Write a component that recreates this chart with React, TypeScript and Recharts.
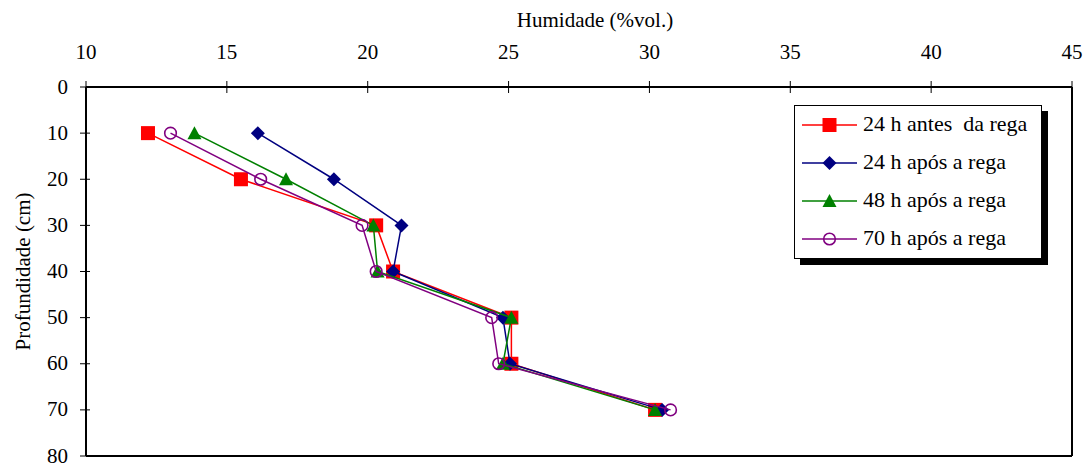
import React from 'react';
import { ScatterChart, Scatter, XAxis, YAxis, ReferenceLine, Legend } from 'recharts';

const depths = [10, 20, 30, 40, 50, 60, 70];
const antes24 = [12.2, 15.5, 20.3, 20.9, 25.1, 25.1, 30.2];
const apos24 = [16.1, 18.8, 21.2, 20.9, 24.8, 25.05, 30.45];
const apos48 = [13.85, 17.1, 20.2, 20.35, 25.1, 24.8, 30.2];
const apos70 = [13.0, 16.2, 19.8, 20.3, 24.4, 24.65, 30.75];

const xTicks = [10, 15, 20, 25, 30, 35, 40, 45];
const yTicks = [0, 10, 20, 30, 40, 50, 60, 70, 80];

const seriesNames = ['24 h antes  da rega', '24 h após a rega', '48 h após a rega', '70 h após a rega'];
const seriesColors = ['#FF0000', '#000080', '#008000', '#800080'];
const seriesShapes = ['square', 'diamond', 'triangle', 'circle'];
const seriesValues = [antes24, apos24, apos48, apos70];

const FONT = 'Liberation Serif';
const TICK_SIZE = 6;
const X_TICK_MARGIN = 22;
const Y_TICK_MARGIN = 12;

const toPoints = (vals: number[]) => vals.map((v, i) => ({ x: v, y: depths[i] }));

function Marker({ kind, cx, cy, color }: { kind: string; cx: number; cy: number; color: string }) {
  if (cx == null || cy == null) return null;
  switch (kind) {
    case 'square':
      return <rect x={cx - 7} y={cy - 7} width={14} height={14} fill={color} />;
    case 'diamond':
      return (
        <polygon
          points={`${cx},${cy - 7} ${cx + 7},${cy} ${cx},${cy + 7} ${cx - 7},${cy}`}
          fill={color}
        />
      );
    case 'triangle':
      return (
        <polygon
          points={`${cx},${cy - 7} ${cx + 7},${cy + 6} ${cx - 7},${cy + 6}`}
          fill={color}
        />
      );
    default:
      return <circle cx={cx} cy={cy} r={5.8} fill="none" stroke={color} strokeWidth={1.6} />;
  }
}

const XTick = (props: any) => {
  const { x, y, payload } = props;
  const axisY = y + TICK_SIZE + X_TICK_MARGIN;
  return (
    <g>
      <line x1={x} x2={x} y1={axisY - 6} y2={axisY + 6} stroke="#000" strokeWidth={1} />
      <text x={x} y={y} textAnchor="middle" fontFamily={FONT} fontSize={21} fill="#000">
        {payload.value}
      </text>
    </g>
  );
};

const YTick = (props: any) => {
  const { x, y, payload } = props;
  const axisX = x + TICK_SIZE + Y_TICK_MARGIN;
  return (
    <g>
      <line x1={axisX - 6} x2={axisX + 4} y1={y} y2={y} stroke="#000" strokeWidth={1} />
      <text x={x} y={y + 6.5} textAnchor="end" fontFamily={FONT} fontSize={21} fill="#000">
        {payload.value}
      </text>
    </g>
  );
};

const XTitle = (props: any) => {
  const { x, y, width } = props.viewBox;
  return (
    <text x={x + width / 2 + 16} y={y + 27} textAnchor="middle" fontFamily={FONT} fontSize={21} fill="#000">
      Humidade (%vol.)
    </text>
  );
};

const YTitle = (props: any) => {
  const { x, y, height } = props.viewBox;
  const cx = x + 30;
  const cy = y + height / 2;
  return (
    <text
      x={cx}
      y={cy}
      transform={`rotate(-90 ${cx} ${cy})`}
      textAnchor="middle"
      fontFamily={FONT}
      fontSize={21}
      fill="#000"
    >
      Profundidade (cm)
    </text>
  );
};

const LegendBox = () => (
  <div
    style={{
      width: 248,
      height: 154,
      border: '1px solid #000',
      boxShadow: '6px 6px 0 #000',
      background: '#fff',
      boxSizing: 'border-box',
    }}
  >
    <svg width={246} height={152} style={{ display: 'block' }}>
      {seriesNames.map((name, i) => {
        const cy = 19 + i * 38;
        return (
          <g key={name}>
            <line x1={7} x2={62} y1={cy} y2={cy} stroke={seriesColors[i]} strokeWidth={1.5} />
            <Marker kind={seriesShapes[i]} cx={34.5} cy={cy} color={seriesColors[i]} />
            <text
              x={68}
              y={cy + 6}
              fontFamily={FONT}
              fontSize={22}
              fill="#000"
              style={{ whiteSpace: 'pre' }}
            >
              {name}
            </text>
          </g>
        );
      })}
    </svg>
  </div>
);

export default function App() {
  return (
    <div style={{ position: 'absolute', left: 0, top: 0, width: 1090, height: 464, background: '#fff' }}>
      <ScatterChart width={1090} height={464} margin={{ top: 0, right: 18, bottom: 8, left: 0 }}>
        <XAxis
          type="number"
          dataKey="x"
          orientation="top"
          domain={[10, 45]}
          ticks={xTicks}
          interval={0}
          height={87}
          tickSize={TICK_SIZE}
          tickMargin={X_TICK_MARGIN}
          axisLine={{ stroke: '#000', strokeWidth: 2 }}
          tickLine={false}
          tick={<XTick />}
          label={<XTitle />}
        />
        <YAxis
          type="number"
          dataKey="y"
          domain={[0, 80]}
          reversed
          ticks={yTicks}
          interval={0}
          width={86}
          tickSize={TICK_SIZE}
          tickMargin={Y_TICK_MARGIN}
          axisLine={{ stroke: '#000', strokeWidth: 2 }}
          tickLine={false}
          tick={<YTick />}
          label={<YTitle />}
        />
        <ReferenceLine x={45} stroke="#000" strokeWidth={2} />
        <ReferenceLine y={80} stroke="#000" strokeWidth={2} />
        {seriesNames.map((name, i) => (
          <Scatter
            key={name}
            name={name}
            data={toPoints(seriesValues[i])}
            fill={seriesColors[i]}
            line={{ stroke: seriesColors[i], strokeWidth: 1.5 }}
            lineType="joint"
            isAnimationActive={false}
            shape={(p: any) => <Marker kind={seriesShapes[i]} cx={p.cx} cy={p.cy} color={seriesColors[i]} />}
          />
        ))}
        <Legend
          layout="horizontal"
          align="center"
          verticalAlign="middle"
          content={() => <LegendBox />}
          wrapperStyle={{ position: 'absolute', left: 794, top: 105, width: 248, height: 154 }}
        />
      </ScatterChart>
    </div>
  );
}
